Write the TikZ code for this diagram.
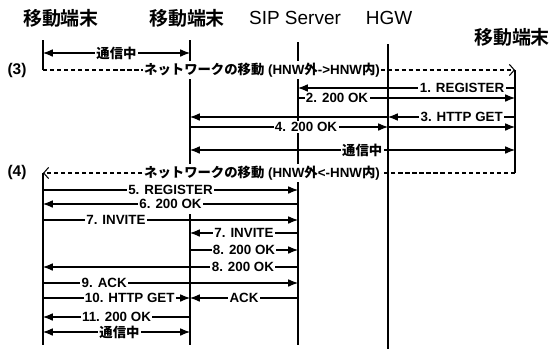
\documentclass[tikz,border=0pt]{standalone}
\usepackage{fontspec}
\setmainfont{Liberation Sans}
\newfontfamily\jpb{Noto Sans CJK JP Bold}
\usetikzlibrary{arrows.meta, positioning}

\begin{document}
\begin{tikzpicture}[x=0.025cm, y=-0.025cm, >={Latex[length=7pt,width=5.5pt]},
    life/.style={line width=1.3pt},
    msg/.style={line width=0.75pt},
    move/.style={msg, dash pattern=on 3pt off 2pt, -{Straight Barb[length=3.5pt,width=8pt]}},
    lbl/.style={fill=white, inner sep=1pt, font=\bfseries\fontsize{9.5}{11}\selectfont},
    head/.style={font=\fontsize{13.5}{16}\selectfont},
    phase/.style={font=\bfseries\fontsize{11}{13}\selectfont}]
    \useasboundingbox (0,0) rectangle (560,349);

    % lifelines (x) and rows (y)
    \coordinate (L1) at (43,40);
    \coordinate (L2) at (190,40);
    \coordinate (L3) at (298,42);
    \coordinate (L4) at (388,44);
    \coordinate (L5) at (515,70);
    \coordinate (L2end) at (190,165);
    \coordinate (L2again) at (190,214);
    \foreach \n/\y in {talk1/53, mv3/70, reg1/88, ok2/98, get3/117, ok4/127, talk2/150,
        mv4/173, reg5/190, ok6/204, inv7a/220, inv7b/233, ok8a/250, ok8b/267,
        ack9/283, get10/298, ok11/317, talk3/332, bot/345, bot4/349}
        \coordinate (\n) at (0,\y);

    \node [head] (h1) at (61,18) {\jpb 移動端末};
    \node [head] (h2) at (187,18) {\jpb 移動端末};
    \node [head] (h3) at (295,18) {SIP Server};
    \node [head] (h4) at (389,18) {HGW};
    \node [head] (h5) at (512,37) {\jpb 移動端末};
    \node [phase] (p3) at (17,70) {(3)};
    \node [phase] (p4) at (17,172) {(4)};

    \draw [life] (L1) -- (L1 |- mv3);
    \draw [life] (L1 |- mv4) -- (L1 |- bot);
    \draw [life] (L2) -- (L2end);
    \draw [life] (L2again) -- (L2 |- bot);
    \draw [life] (L3) -- (L3 |- bot);
    \draw [life] (L4) -- (L4 |- bot4);
    \draw [life] (L5) -- (L5 |- mv4);

    % (3) HNW outside -> inside
    \draw [msg, <->] (L1 |- talk1) -- node[lbl] {\jpb 通信中} (L2 |- talk1);
    \draw [move] (L1 |- mv3) -- node[lbl, pos=.464] {{\jpb ネットワークの移動} (HNW{\jpb 外}->HNW{\jpb 内})} (L5 |- mv3);
    \draw [msg, ->] (L5 |- reg1) -- node[lbl, pos=.244] {1. REGISTER} (L3 |- reg1);
    \draw [msg, ->] (L3 |- ok2) -- node[lbl, pos=.18] {2. 200 OK} (L5 |- ok2);
    \draw [msg, ->] (L5 |- get3) -- node[lbl, pos=.42] {3. HTTP GET} (L4 |- get3);
    \draw [msg, ->] (L4 |- get3) -- (L2 |- get3);
    \draw [msg, ->] (L2 |- ok4) -- node[lbl, pos=.586] {4. 200 OK} (L4 |- ok4);
    \draw [msg, ->] (L4 |- ok4) -- (L5 |- ok4);
    \draw [msg, <->] (L2 |- talk2) -- node[lbl, pos=.53] {\jpb 通信中} (L5 |- talk2);

    % (4) HNW inside -> outside
    \draw [move] (L5 |- mv4) -- node[lbl, pos=.536] {{\jpb ネットワークの移動} (HNW{\jpb 外}<-HNW{\jpb 内})} (L1 |- mv4);
    \draw [msg, ->] (L1 |- reg5) -- node[lbl] {5. REGISTER} (L3 |- reg5);
    \draw [msg, ->] (L3 |- ok6) -- node[lbl] {6. 200 OK} (L1 |- ok6);
    \draw [msg, ->] (L1 |- inv7a) -- node[lbl, pos=.286] {7. INVITE} (L3 |- inv7a);
    \draw [msg, ->] (L3 |- inv7b) -- node[lbl] {7. INVITE} (L2 |- inv7b);
    \draw [msg, ->] (L2 |- ok8a) -- node[lbl] {8. 200 OK} (L3 |- ok8a);
    \draw [msg, ->] (L3 |- ok8b) -- node[lbl, pos=.216] {8. 200 OK} (L1 |- ok8b);
    \draw [msg, ->] (L1 |- ack9) -- node[lbl, pos=.24] {9. ACK} (L3 |- ack9);
    \draw [msg, ->] (L1 |- get10) -- node[lbl, pos=.59] {10. HTTP GET} (L2 |- get10);
    \draw [msg, ->] (L3 |- get10) -- node[lbl] {ACK} (L2 |- get10);
    \draw [msg, ->] (L2 |- ok11) -- node[lbl] {11. 200 OK} (L1 |- ok11);
    \draw [msg, <->] (L1 |- talk3) -- node[lbl, pos=.52] {\jpb 通信中} (L2 |- talk3);
\end{tikzpicture}
\end{document}
